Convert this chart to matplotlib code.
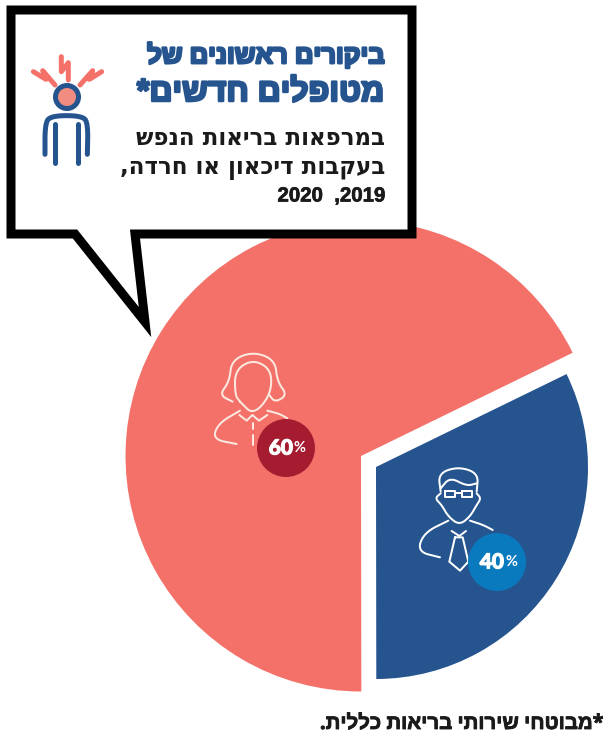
import numpy as np
import matplotlib
matplotlib.use("Agg")
import matplotlib.pyplot as plt
import matplotlib.patheffects as pe
from matplotlib.patches import Circle, Polygon

# shares as drawn in the picture (the slices are not cut to the printed 60/40)
groups = ["women", "men"]
drawn_shares = [67.8, 32.2]
pct_labels = ["60", "40"]
title_lines = ["ביקורים ראשונים של", "מטופלים חדשים*"]
body_lines = ["במרפאות בריאות הנפש", "בעקבות דיכאון או חרדה,"]
years_line = "2020  ,2019"
footnote = "*מבוטחי שירותי בריאות כללית."

RED = "#F4716A"
BLUE = "#25548F"
DARK_RED = "#A51C30"
LIGHT_BLUE = "#0A7ABF"
CREAM = "#FBE9DF"
H = 737


def py(y):
    return H - y


def px(w):
    return w * 0.72


def heavy(w, color):
    return [pe.withStroke(linewidth=w, foreground=color)]


def smooth(points, n=3):
    p = np.array(points, float)
    for _ in range(n):
        q = p[:-1] * 0.75 + p[1:] * 0.25
        r = p[:-1] * 0.25 + p[1:] * 0.75
        mid = np.empty((q.shape[0] * 2, 2))
        mid[0::2], mid[1::2] = q, r
        p = np.vstack([p[0], mid, p[-1]])
    return p


def draw_line(ax, points, color, w, zoom=None, curved=True, zorder=4):
    pts = np.array(points, float)
    if zoom is not None:
        pts = np.array(zoom[:2]) + pts / 3
    if curved:
        pts = smooth(pts)
    ax.plot(pts[:, 0], py(pts[:, 1]), color=color, lw=px(w), solid_capstyle="round",
            solid_joinstyle="round", zorder=zorder)


def draw_woman(ax):
    z = (190, 340)
    draw_line(ax, [(128, 185), (88, 165), (118, 125), (125, 60), (190, 35), (255, 60), (262, 125), (292, 165), (255, 187), (238, 165)], CREAM, 2, z)
    draw_line(ax, [(150, 185), (135, 165), (135, 90), (190, 58), (245, 90), (242, 165), (190, 225), (150, 185)], CREAM, 2, z)
    draw_line(ax, [(140, 312), (68, 298), (85, 250), (150, 212)], CREAM, 2, z)
    draw_line(ax, [(148, 225), (170, 242), (187, 225), (207, 242), (232, 225)], CREAM, 2, z, curved=False)
    draw_line(ax, [(188, 250), (188, 268)], CREAM, 2, z, curved=False)
    draw_line(ax, [(188, 285), (188, 315)], CREAM, 2, z, curved=False)
    draw_line(ax, [(232, 212), (270, 222), (292, 235)], CREAM, 2, z)


def draw_man(ax):
    z = (400, 450)
    draw_line(ax, [(122, 125), (115, 70), (175, 50), (235, 70), (230, 125)], "white", 2, z)
    draw_line(ax, [(122, 115), (150, 82), (200, 108), (230, 100)], "white", 2, z)
    draw_line(ax, [(122, 130), (105, 145), (125, 165), (145, 200), (178, 225), (210, 200), (230, 165), (243, 145), (230, 130)], "white", 2, z)
    draw_line(ax, [(135, 124), (165, 124), (165, 140), (135, 140), (135, 124)], "white", 2, z, curved=False)
    draw_line(ax, [(187, 124), (217, 124), (217, 140), (187, 140), (187, 124)], "white", 2, z, curved=False)
    draw_line(ax, [(165, 130), (187, 130)], "white", 2, z, curved=False)
    draw_line(ax, [(120, 322), (52, 305), (72, 248), (145, 212)], "white", 2, z)
    draw_line(ax, [(210, 212), (250, 225), (278, 240)], "white", 2, z)
    draw_line(ax, [(155, 243), (178, 258), (198, 243)], "white", 2, z, curved=False)
    draw_line(ax, [(165, 262), (148, 335), (180, 362), (205, 335), (188, 262), (165, 262)], "white", 2, z, curved=False)


def draw_head_icon(ax):
    z = (0, 0)
    ax.add_patch(Circle((67, py(97)), 11.5, fc="#F08D80", ec=BLUE, lw=px(5), zorder=6))
    draw_line(ax, [(135, 463), (135, 375), (150, 347), (250, 347), (264, 375), (262, 463)], BLUE, 5, z, zorder=6)
    draw_line(ax, [(166, 372), (166, 490)], BLUE, 5, z, curved=False, zorder=6)
    draw_line(ax, [(233, 372), (233, 490)], BLUE, 5, z, curved=False, zorder=6)
    for bolt in ([(184, 170), (184, 215), (205, 188), (205, 240)],
                 [(100, 215), (138, 238), (128, 212), (165, 255)],
                 [(305, 215), (268, 238), (278, 212), (240, 255)]):
        draw_line(ax, bolt, RED, 5, z, curved=False, zorder=6)


def main():
    fig = plt.figure(figsize=(6.03, 7.37), dpi=100, facecolor="white")
    ax = fig.add_axes([0, 0, 1, 1])

    pies = [((361, py(456)), 235.5, [RED, "none"]),
            ((376, py(467)), 212, ["none", BLUE])]
    for center, radius, colors in pies:
        ax.pie(drawn_shares, colors=colors, center=center, radius=radius, startangle=26,
               frame=True, wedgeprops={"linewidth": 0})

    ax.set_xlim(0, 603)
    ax.set_ylim(0, H)
    ax.set_aspect("equal")
    ax.axis("off")

    # speech bubble over the pie
    bubble = [(11, 10), (412, 10), (412, 234), (135, 234), (145, 322), (75, 234), (11, 234)]
    ax.add_patch(Polygon([(x, py(y)) for x, y in bubble], closed=True, fc="white", ec="black",
                         lw=px(9), joinstyle="miter", zorder=3))
    draw_head_icon(ax)
    draw_woman(ax)
    draw_man(ax)

    hebrew = ["Open Sans", "Liberation Sans", "DejaVu Sans"]
    for line, y, size in zip(title_lines, [55, 93], [18.5, 23]):
        ax.text(385, py(y), line[::-1], color=BLUE, fontsize=size, fontweight="bold",
                family=["Liberation Sans", "DejaVu Sans"], ha="right", va="center", zorder=6,
                path_effects=heavy(1.8, BLUE))
    for line, y in zip(body_lines, [138, 168]):
        ax.text(385, py(y), line[::-1], color="#1A1A1A", fontsize=16.5, fontweight="bold",
                family=["DejaVu Sans"], ha="right", va="center", zorder=6)
    ax.text(385, py(196), years_line, color="#1A1A1A", fontsize=14.7, fontweight="bold",
            family=["Liberation Sans"], ha="right", va="center", zorder=6,
            path_effects=heavy(0.5, "#1A1A1A"))
    ax.text(603, py(724), footnote[::-1], color="#1A1A1A", fontsize=14.7, fontweight="bold",
            family=hebrew, ha="right", va="center", zorder=6, path_effects=heavy(0.6, "#1A1A1A"))

    for (cx, cy), label, color in zip([(286, 448), (497, 562)], pct_labels, [DARK_RED, LIGHT_BLUE]):
        ax.add_patch(Circle((cx, py(cy)), 29, fc=color, ec="none", zorder=5))
        ax.text(cx + 7, py(cy), label, color="white", fontsize=15, fontweight="black",
                family="Lato", ha="right", va="center", zorder=6, path_effects=heavy(0.8, "white"))
        ax.text(cx + 8, py(cy - 0.5), "%", color="white", fontsize=10.5, fontweight="bold",
                family="Lato", ha="left", va="center", zorder=6)

    fig.savefig("out.png", dpi=100, facecolor="white")


if __name__ == "__main__":
    main()
